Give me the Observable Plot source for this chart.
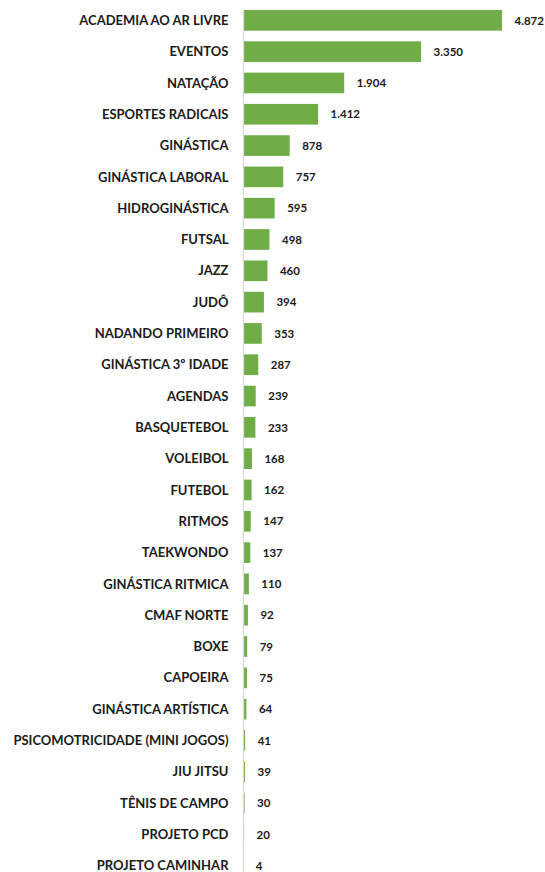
<!DOCTYPE html>
<html><head><meta charset="utf-8">
<script src="https://cdn.jsdelivr.net/npm/d3@7"></script>
<script src="https://cdn.jsdelivr.net/npm/@observablehq/plot@0.6"></script>
<style>
body{margin:0;background:#fff;overflow:hidden;}
svg{font-family:Lato,"Open Sans",sans-serif;}
</style></head><body>
<div id="chart"></div>
<script>
const categories = ["ACADEMIA AO AR LIVRE","EVENTOS","NATAÇÃO","ESPORTES RADICAIS","GINÁSTICA","GINÁSTICA LABORAL","HIDROGINÁSTICA","FUTSAL","JAZZ","JUDÔ","NADANDO PRIMEIRO","GINÁSTICA 3º IDADE","AGENDAS","BASQUETEBOL","VOLEIBOL","FUTEBOL","RITMOS","TAEKWONDO","GINÁSTICA RITMICA","CMAF NORTE","BOXE","CAPOEIRA","GINÁSTICA ARTÍSTICA","PSICOMOTRICIDADE (MINI JOGOS)","JIU JITSU","TÊNIS DE CAMPO","PROJETO PCD","PROJETO CAMINHAR"];
const values = [4872,3350,1904,1412,878,757,595,498,460,394,353,287,239,233,168,162,147,137,110,92,79,75,64,41,39,30,20,4];
const data = categories.map((c,i)=>({name:c, value:values[i]}));
const loc = d3.formatLocale({decimal:",", thousands:".", grouping:[3], currency:["R$",""]});
const fmt = loc.format(",d");
const chart = Plot.plot({
  width:545, height:872,
  marginLeft:243, marginRight:43, marginTop:10, marginBottom:-4,
  x:{domain:[0,4872], axis:null},
  y:{domain:categories, paddingInner:0.34, paddingOuter:0, round:false, label:null},
  style:{fontSize:"13px", fontWeight:"bold", color:"#1a1a1a", background:"#fff", overflow:"hidden"},
  marks:[
    Plot.barX(data,{y:"name", x:"value", fill:"#70AD47"}),
    Plot.ruleX([0],{stroke:"#d9d9d9", strokeWidth:1.3}),
    Plot.axisY({tickSize:0, tickPadding:15, fontWeight:"bold", fontSize:13, fill:"#1a1a1a", label:null}),
    Plot.text(data,{y:"name", x:"value", text:d=>fmt(d.value), dx:12, textAnchor:"start", fontWeight:"bold", fontSize:11.5, fill:"#1a1a1a"})
  ]
});
document.getElementById("chart").append(chart);
</script></body></html>
